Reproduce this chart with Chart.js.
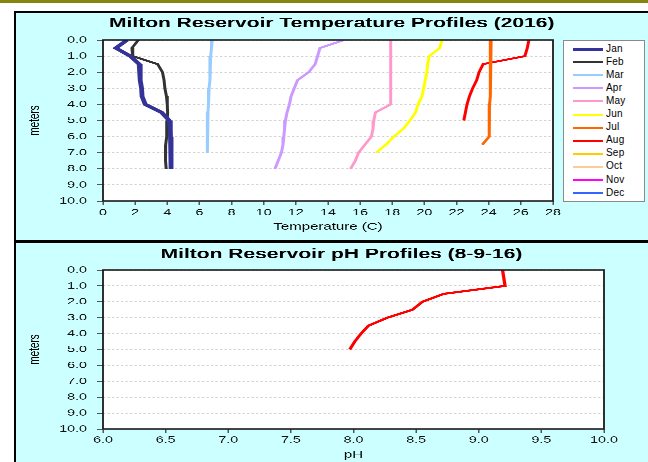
<!DOCTYPE html>
<html>
<head>
<meta charset="utf-8">
<title>Milton Reservoir Profiles</title>
<script src="https://cdn.jsdelivr.net/npm/chart.js@4.4.0/dist/chart.umd.min.js"></script>
<style>
  html, body { margin: 0; padding: 0; background: #fff; }
  body { position: relative; width: 648px; height: 462px; overflow: hidden; font-family: 'Liberation Sans', Arial, sans-serif; }
  #bar { position: absolute; left: 0; top: 0; width: 648px; height: 3px; background: #86860f; }
  .panel { position: absolute; left: 14px; width: 700px; background: #ccffff; box-sizing: border-box; border: 0 solid #000; }
  #panel1 { top: 11px; height: 231px; border-width: 2px 0 2px 2px; }
  #panel2 { top: 242px; height: 240px; border-width: 1px 0 0 2px; }
  /* the original picture is stretched sideways, so the canvases are too */
  .stretch { position: absolute; left: 16px; transform: scaleX(1.5); transform-origin: 0 0; }
  #wrap1 { top: 13px; }
  #wrap2 { top: 243px; }
  #legend { position: absolute; left: 563px; top: 40px; width: 82px; height: 162px; box-sizing: border-box;
            background: #fff; border: 1px solid #8a8a8a; }
  .item { position: absolute; left: 0; height: 12px; width: 80px; }
  .item span.line { position: absolute; left: 9px; width: 30px; }
  .item span.txt { position: absolute; left: 42px; top: 0; font-size: 10px; line-height: 12px; letter-spacing: 0.2px; color: #000; }
</style>
</head>
<body>
<div id="bar"></div>
<div class="panel" id="panel1"></div>
<div class="panel" id="panel2"></div>
<div class="stretch" id="wrap1"><canvas id="grafico1" width="421" height="227"></canvas></div>
<div class="stretch" id="wrap2"><canvas id="grafico2" width="421" height="219"></canvas></div>
<div id="legend"></div>
<script>
// temperature profiles, depth in meters every 0.5 m
const months = ['Jan', 'Feb', 'Mar', 'Apr', 'May', 'Jun', 'Jul', 'Aug', 'Sep', 'Oct', 'Nov', 'Dec'];
const monthColors = ['#333399', '#333333', '#99ccff', '#cc99ff', '#ff99cc', '#ffff00',
                     '#ff6600', '#ff0000', '#ffcc00', '#ffcc99', '#ff00ff', '#3366ff'];
const depths = [0, 0.5, 1, 1.5, 2, 2.5, 3, 3.5, 4, 4.5, 5, 5.5, 6, 6.5, 7, 7.5, 8];

const tempJan = [1.5, 0.8, 1.7, 2.25, 2.3, 2.33, 2.4, 2.43, 2.63, 3.65, 4.12, 4.19, 4.2, 4.22, 4.23, 4.24, 4.25];
const tempFeb = [2.2, 1.8, 1.85, 3.4, 3.7, 3.8, 3.85, 3.95, 4.0, 4.02, 4.0, 3.98, 3.95, 3.9, 3.88, 3.9, 3.93];
const tempMar = [6.8, 6.75, 6.7, 6.68, 6.65, 6.63, 6.6, 6.58, 6.55, 6.53, 6.52, 6.5, 6.5, 6.48, 6.47];
const tempApr = [15.0, 13.5, 13.35, 13.2, 12.8, 12.1, 11.9, 11.7, 11.6, 11.45, 11.35, 11.3, 11.25, 11.2, 11.1, 10.9, 10.7];
const tempMay = [17.9, 17.9, 17.9, 17.9, 17.9, 17.9, 17.9, 17.9, 17.9, 16.95, 16.85, 16.8, 16.7, 16.3, 15.9, 15.7, 15.4];
const tempJun = [21.1, 20.95, 20.3, 20.2, 20.15, 20.05, 19.95, 19.85, 19.6, 19.45, 19.1, 18.7, 18.1, 17.6, 17.0];
const tempJul = [24.15, 24.12, 24.1, 24.1, 24.1, 24.1, 24.1, 24.08, 24.05, 24.05, 24.05, 24.03, 24.0, 23.6];
const tempAug = [26.5, 26.4, 26.25, 23.65, 23.4, 23.25, 23.0, 22.8, 22.65, 22.55, 22.45];
const tempSep = [];
const tempOct = [];
const tempNov = [];
const tempDec = [];

// pH profile of 8-9-16
const phDepths = [0, 0.5, 1, 1.5, 2, 2.5, 3, 3.5, 4, 4.5, 5];
const phAug9 = [9.19, 9.2, 9.21, 8.72, 8.55, 8.47, 8.27, 8.12, 8.06, 8.01, 7.97];

const tempSeries = [tempJan, tempFeb, tempMar, tempApr, tempMay, tempJun,
                    tempJul, tempAug, tempSep, tempOct, tempNov, tempDec];

Chart.defaults.font.family = "'Liberation Sans', Arial, sans-serif";
Chart.defaults.color = '#000';

function points(values, levels) {
    return values.map((v, i) => ({ x: v, y: levels[i] }));
}

// white plot area with a dark frame
const plotFrame = {
    id: 'plotFrame',
    beforeDraw(chart) {
        const { ctx, chartArea: a } = chart;
        ctx.save();
        ctx.fillStyle = '#fff';
        ctx.fillRect(a.left, a.top, a.width, a.height);
        ctx.restore();
    },
    afterDraw(chart) {
        const { ctx, chartArea: a } = chart;
        ctx.save();
        ctx.strokeStyle = '#1a1a1a';
        ctx.lineWidth = 1.2;
        ctx.strokeRect(a.left, a.top, a.width, a.height);
        ctx.restore();
    }
};

function depthAxis(width, titlePad) {
    return {
        type: 'linear',
        position: 'left',
        reverse: true,
        min: 0,
        max: 10,
        ticks: { stepSize: 1, padding: 6.7, font: { size: 9.5 }, color: '#111',
                 callback: v => v.toFixed(1) },
        grid: { color: '#d2d2d2', lineWidth: 1, tickLength: 4, tickColor: '#555' },
        border: { display: false, dash: [1.5, 1.5] },
        title: { display: true, text: 'meters', font: { size: 10 }, padding: { top: titlePad, bottom: 0 } },
        afterFit(scale) { scale.width = width; }
    };
}

function spacerAxis(width) {
    return {
        type: 'linear',
        position: 'right',
        display: true,
        ticks: { display: false },
        grid: { display: false },
        border: { display: false },
        afterFit(scale) { scale.width = width; }
    };
}

function valueAxis(min, max, step, decimals, label, height, tickPad, titlePad) {
    return {
        type: 'linear',
        position: 'bottom',
        min: min,
        max: max,
        ticks: { stepSize: step, padding: tickPad, font: { size: 9.5 }, color: '#111', maxRotation: 0,
                 callback: v => v.toFixed(decimals) },
        grid: { drawOnChartArea: false, tickLength: 4, tickColor: '#555' },
        border: { display: false },
        title: { display: true, text: label, font: { size: 10 }, padding: { top: 0, bottom: titlePad } },
        afterFit(scale) { scale.height = height; }
    };
}

const tempDatasets = months.map((m, i) => ({
    label: m,
    data: points(tempSeries[i], depths),
    borderColor: monthColors[i],
    backgroundColor: monthColors[i],
    borderWidth: i === 0 ? 3.2 : 2,
    pointRadius: 0,
    showLine: true,
    tension: 0
}));

new Chart(document.getElementById('grafico1'), {
    type: 'scatter',
    data: { datasets: tempDatasets },
    options: {
        responsive: false,
        devicePixelRatio: 3,
        animation: false,
        events: [],
        layout: { padding: 0 },
        plugins: {
            legend: { display: false },
            tooltip: { enabled: false },
            title: { display: true, text: 'Milton Reservoir Temperature Profiles (2016)',
                     font: { size: 14, weight: 'bold' }, color: '#000', padding: { top: 2, bottom: 8.2 } }
        },
        scales: {
            x: valueAxis(0, 28, 2, 0, 'Temperature (C)', 39, 2.1, 7),
            y: depthAxis(58, 6.7),
            yr: spacerAxis(63)
        }
    },
    plugins: [plotFrame]
});

new Chart(document.getElementById('grafico2'), {
    type: 'scatter',
    data: {
        datasets: [{
            label: 'pH 8-9-16',
            data: points(phAug9, phDepths),
            borderColor: '#ff0000',
            backgroundColor: '#ff0000',
            borderWidth: 2.2,
            pointRadius: 0,
            showLine: true,
            tension: 0
        }]
    },
    options: {
        responsive: false,
        devicePixelRatio: 3,
        animation: false,
        events: [],
        layout: { padding: { left: 13, right: 0, top: 0, bottom: 0 } },
        plugins: {
            legend: { display: false },
            tooltip: { enabled: false },
            title: { display: true, text: 'Milton Reservoir pH Profiles (8-9-16)',
                     font: { size: 14, weight: 'bold' }, color: '#000', padding: { top: 3.1, bottom: 7.1 } }
        },
        scales: {
            x: valueAxis(6, 10, 0.5, 1, 'pH', 33, 1.4, 1),
            y: depthAxis(45, -6.3),
            yr: spacerAxis(29)
        }
    },
    plugins: [plotFrame]
});

// legend box of the temperature chart
const legend = document.getElementById('legend');
months.forEach((m, i) => {
    const item = document.createElement('div');
    item.className = 'item';
    item.style.top = (1.5 + i * 13.1) + 'px';
    const line = document.createElement('span');
    line.className = 'line';
    line.style.background = monthColors[i];
    line.style.height = (i === 0 ? 3 : 2) + 'px';
    line.style.top = (i === 0 ? 5 : 5.5) + 'px';
    const txt = document.createElement('span');
    txt.className = 'txt';
    txt.innerText = m;
    item.append(line, txt);
    legend.append(item);
});
</script>
</body>
</html>
